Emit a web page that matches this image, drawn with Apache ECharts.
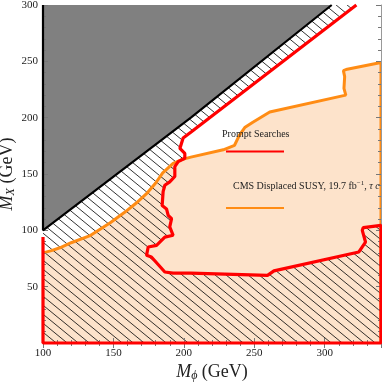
<!DOCTYPE html>
<html>
<head>
<meta charset="utf-8">
<script src="https://cdn.jsdelivr.net/npm/echarts@6/dist/echarts.min.js"></script>
<style>
  html, body { margin: 0; padding: 0; background: #fff; }
  #main { width: 382px; height: 385px; }
</style>
</head>
<body>
<div id="main"></div>
<script>
// kinematic edge (black diagonal)
const blackEdge = [[100, 100], [205, 200], [305, 300]];

// prompt searches boundary (red)
const redEdge = [
  [322.5, 300], [205.4, 187.5], [199.5, 182], [197.2, 172.7], [200.7, 168.3], [200.7, 164],
  [196, 161], [193.6, 156.6], [193.6, 147.8], [190, 143], [186.5, 140], [185.3, 134.3],
  [184.6, 122], [187.7, 119], [188.9, 113.3], [191.3, 110.3], [190, 103], [192.4, 95.6],
  [186.5, 94], [180.6, 86.7], [174.7, 85.2], [173.5, 77.8], [177, 76.3], [186.5, 63],
  [192.4, 62], [205, 62], [259.4, 60], [264, 64], [324.3, 80.8], [329, 89.6],
  [326.7, 100], [327.4, 102.4], [340, 104.4], [340, 0], [100, 0], [100, 94]
];

// CMS displaced SUSY boundary (orange)
const orangeEdge = [
  [100, 80], [106, 82], [112, 84.5], [120, 89], [133, 95], [147.5, 106.5], [158, 116],
  [166, 124], [173.5, 132.5], [180, 142], [185, 151], [192.4, 159.5], [199, 163],
  [205, 165], [228, 171.5], [236, 175.5], [239.5, 184.5], [243.5, 191.5], [249, 196],
  [261, 205], [315, 220], [313.7, 226], [314.2, 236.4], [313.3, 241.7], [316, 243],
  [340, 249], [340, 0]
];

const xTicks = [100, 340, 50];
const yTicks = [0, 300, 50];

const serif = 'Liberation Serif';

function hatchTile() {
  const w = 11, h = 9;
  const c = document.createElement('canvas');
  c.width = w; c.height = h;
  const g = c.getContext('2d');
  g.strokeStyle = '#000';
  g.lineWidth = 0.8;
  for (let k = -1; k <= 1; k++) {
    g.beginPath();
    g.moveTo(k * w - w, -h);
    g.lineTo(k * w + 2 * w, 2 * h);
    g.stroke();
  }
  return c;
}
const hatch = hatchTile();

function polySeries(pts, style, z) {
  return {
    type: 'custom',
    z: z,
    silent: true,
    data: pts,
    renderItem: function (params, api) {
      if (params.dataIndex !== 0) return null;
      return {
        type: 'polygon',
        shape: { points: pts.map(p => api.coord(p)) },
        style: style
      };
    }
  };
}

function edgeSeries(pts, color, width, z) {
  return {
    type: 'line',
    z: z,
    data: pts,
    showSymbol: false,
    clip: false,
    silent: true,
    lineStyle: { color: color, width: width },
    animation: false
  };
}

const peach = [[100, 0]].concat(orangeEdge);
const gray = blackEdge.concat([[100, 300]]);
const grayEdge = [[100, 300]].concat(blackEdge);
const hatched = blackEdge.concat(redEdge);

const chart = echarts.init(document.getElementById('main'));

const tickStyle = { color: '#777', width: 1 };
const nameRich = {
  i: { fontFamily: serif, fontSize: 18, fontStyle: 'italic', color: '#222' },
  s: { fontFamily: serif, fontSize: 12, fontStyle: 'italic', color: '#222', padding: [8, 0, 0, 0] },
  n: { fontFamily: serif, fontSize: 18, color: '#222' }
};

chart.setOption({
  animation: false,
  grid: { left: 43, top: 5, right: 1, bottom: 42, containLabel: false, outerBoundsMode: 'none' },
  xAxis: [{
    type: 'value', min: xTicks[0], max: xTicks[1], interval: xTicks[2], position: 'bottom', z: 5,
    axisLine: { show: false },
    axisTick: { inside: true, length: 5, lineStyle: tickStyle },
    minorTick: { show: true, splitNumber: 5, length: 3, lineStyle: tickStyle },
    splitLine: { show: false },
    axisLabel: { showMaxLabel: false, margin: 5, fontFamily: serif, fontSize: 11, color: '#222' },
    name: '{i|M}{s|\u03d5}{n| (GeV)}',
    nameLocation: 'middle', nameGap: 19, nameMoveOverlap: false,
    nameTextStyle: { rich: nameRich }
  }, {
    type: 'value', min: xTicks[0], max: xTicks[1], interval: xTicks[2], position: 'top', z: 5,
    axisLine: { show: true, lineStyle: { color: '#999', width: 1 } },
    axisTick: { inside: true, length: 5, lineStyle: tickStyle },
    minorTick: { show: true, splitNumber: 5, length: 3, lineStyle: tickStyle },
    splitLine: { show: false },
    axisLabel: { show: false }
  }],
  yAxis: [{
    type: 'value', min: yTicks[0], max: yTicks[1], interval: yTicks[2], position: 'left', z: 5,
    axisLine: { show: false },
    axisTick: { inside: true, length: 5, lineStyle: tickStyle },
    minorTick: { show: true, splitNumber: 5, length: 3, lineStyle: tickStyle },
    splitLine: { show: false },
    axisLabel: { showMinLabel: false, margin: 5, fontFamily: serif, fontSize: 11, color: '#222' },
    name: '{i|M}{s|X}{n| (GeV)}',
    nameLocation: 'middle', nameGap: 26, nameMoveOverlap: false,
    nameTextStyle: { rich: nameRich }
  }, {
    type: 'value', min: yTicks[0], max: yTicks[1], interval: yTicks[2], position: 'right', z: 5,
    axisLine: { show: true, lineStyle: { color: '#999', width: 1 } },
    axisTick: { inside: true, length: 5, lineStyle: tickStyle },
    minorTick: { show: true, splitNumber: 5, length: 3, lineStyle: tickStyle },
    splitLine: { show: false },
    axisLabel: { show: false }
  }],
  series: [
    polySeries(peach, { fill: '#fde3cb' }, 1),
    polySeries(gray, { fill: '#808080' }, 2),
    polySeries(hatched, { fill: { image: hatch, repeat: 'repeat' } }, 3),
    edgeSeries(orangeEdge, '#ff8c14', 3, 4),
    edgeSeries(redEdge, '#ff0000', 3.2, 5),
    edgeSeries(grayEdge, '#000', 2.2, 6)
  ],
  graphic: [
    { type: 'text', left: 222, top: 129, z: 10, style: { text: 'Prompt Searches', font: '10px "Liberation Serif"', fill: '#222' } },
    { type: 'line', z: 10, shape: { x1: 226, y1: 151.5, x2: 284, y2: 151.5 }, style: { stroke: '#ff0000', lineWidth: 2 } },
    {
      type: 'text', left: 233, top: 180, z: 10,
      style: {
        text: '{a|CMS Displaced SUSY, 19.7 fb}{p|\u22121}{a|, }{t|\u03c4 c}',
        rich: {
          a: { fontFamily: serif, fontSize: 10, fill: '#222' },
          p: { fontFamily: serif, fontSize: 7, fill: '#222', padding: [0, 0, 6, 0] },
          t: { fontFamily: serif, fontSize: 10, fontStyle: 'italic', fill: '#222' }
        }
      }
    },
    { type: 'line', z: 10, shape: { x1: 226, y1: 208, x2: 284, y2: 208 }, style: { stroke: '#ff8c14', lineWidth: 2 } }
  ]
});
</script>
</body>
</html>
